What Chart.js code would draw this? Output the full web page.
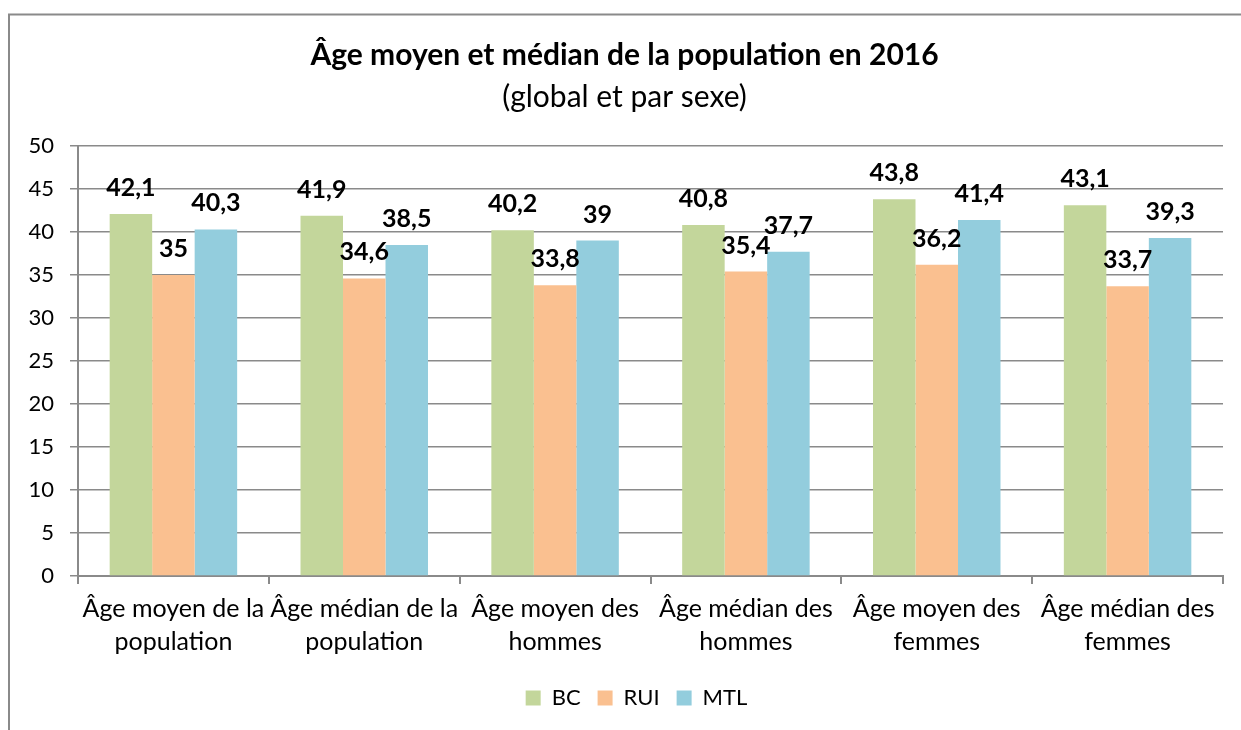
<!DOCTYPE html>
<html>
<head>
<meta charset="utf-8">
<script src="https://cdn.jsdelivr.net/npm/chart.js@4"></script>
<style>
  html, body { margin: 0; padding: 0; background: #fff; }
  #wrap { position: relative; width: 1241px; height: 730px; }
</style>
</head>
<body>
<div id="wrap"><canvas id="ageChart" width="1241" height="730"></canvas></div>
<script>
// Catégories (étiquettes de l'axe X, sur deux lignes)
const categories = [
    ["Âge moyen de la", "population"],
    ["Âge médian de la", "population"],
    ["Âge moyen des", "hommes"],
    ["Âge médian des", "hommes"],
    ["Âge moyen des", "femmes"],
    ["Âge médian des", "femmes"]
];
const seriesNames = ["BC", "RUI", "MTL"];
const bcValues = [42.1, 41.9, 40.2, 40.8, 43.8, 43.1];
const ruiValues = [35, 34.6, 33.8, 35.4, 36.2, 33.7];
const mtlValues = [40.3, 38.5, 39, 37.7, 41.4, 39.3];
const yTicks = [0, 5, 10, 15, 20, 25, 30, 35, 40, 45, 50];

const FONT = "Lato, 'Noto Sans', sans-serif";

// Étiquettes de données au-dessus des barres
const valueLabels = {
    id: "valueLabels",
    afterDatasetsDraw(chart) {
        const ctx = chart.ctx;
        ctx.save();
        ctx.font = "bold 25px " + FONT;
        ctx.fillStyle = "#000";
        ctx.textAlign = "center";
        ctx.textBaseline = "alphabetic";
        chart.data.datasets.forEach((ds, i) => {
            chart.getDatasetMeta(i).data.forEach((bar, j) => {
                const txt = String(ds.data[j]).replace(".", ",");
                ctx.fillText(txt, bar.x, bar.y - 18);
            });
        });
        ctx.restore();
    }
};

// Cadre gris (bord gauche et haut visibles)
const frame = {
    id: "frame",
    beforeDraw(chart) {
        const ctx = chart.ctx;
        ctx.save();
        ctx.fillStyle = "#fff";
        ctx.fillRect(0, 0, chart.width, chart.height);
        ctx.strokeStyle = "#8a8a8a";
        ctx.lineWidth = 2;
        ctx.beginPath();
        ctx.moveTo(9, chart.height);
        ctx.lineTo(9, 14.5);
        ctx.lineTo(chart.width, 14.5);
        ctx.stroke();
        ctx.restore();
    }
};

// Légende un peu décalée vers la droite, comme dans l'original
const legendShift = {
    id: "legendShift",
    afterLayout(chart) {
        if (chart.legend) {
            chart.legend.left += 12;
            chart.legend.right += 12;
        }
    }
};

new Chart(document.getElementById("ageChart"), {
    type: "bar",
    data: {
        labels: categories,
        datasets: [
            { label: seriesNames[0], data: bcValues, backgroundColor: "#C3D69B" },
            { label: seriesNames[1], data: ruiValues, backgroundColor: "#FAC090" },
            { label: seriesNames[2], data: mtlValues, backgroundColor: "#93CDDD" }
        ]
    },
    options: {
        responsive: false,
        animation: false,
        devicePixelRatio: 1,
        datasets: {
            bar: { barPercentage: 1, categoryPercentage: 0.668 }
        },
        layout: {
            padding: { left: 26, right: 18, top: 37, bottom: 11 }
        },
        scales: {
            x: {
                afterFit(scale) {
                    scale.height = 94;
                },
                grid: {
                    offset: true,
                    drawOnChartArea: false,
                    drawTicks: true,
                    tickLength: 8,
                    color: "#8a8a8a",
                    lineWidth: 2
                },
                border: { color: "#8a8a8a", width: 2 },
                ticks: {
                    color: "#000",
                    font: { family: FONT, size: 25, lineHeight: 1.32 },
                    maxRotation: 0,
                    autoSkip: false,
                    padding: 8
                }
            },
            y: {
                min: 0,
                max: 50,
                afterBuildTicks(scale) {
                    scale.ticks = yTicks.map(v => ({ value: v }));
                },
                afterFit(scale) {
                    scale.width = 52;
                },
                grid: {
                    color: "#8a8a8a",
                    lineWidth: 1.5,
                    tickLength: 8
                },
                border: { color: "#8a8a8a", width: 2 },
                ticks: {
                    color: "#000",
                    font: { family: FONT, size: 22 },
                    padding: 16
                }
            }
        },
        plugins: {
            title: {
                display: true,
                text: "Âge moyen et médian de la population en 2016",
                color: "#000",
                font: { family: FONT, size: 30, weight: "bold", lineHeight: 1.2 },
                padding: { top: 0, bottom: 6 }
            },
            subtitle: {
                display: true,
                text: "(global et par sexe)",
                color: "#000",
                font: { family: FONT, size: 30, lineHeight: 1.2 },
                padding: { top: 0, bottom: 31 }
            },
            legend: {
                position: "bottom",
                labels: {
                    color: "#000",
                    boxWidth: 15,
                    boxHeight: 15,
                    padding: 17,
                    font: { family: FONT, size: 22 }
                }
            },
            tooltip: { enabled: false }
        }
    },
    plugins: [frame, legendShift, valueLabels]
});
</script>
</body>
</html>
